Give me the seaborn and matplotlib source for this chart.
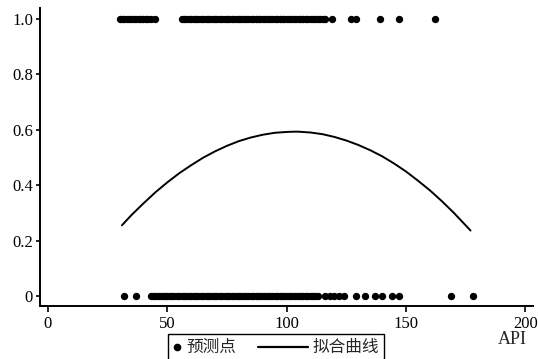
import numpy as np
import pandas as pd
import matplotlib.pyplot as plt
import seaborn as sns
from matplotlib.legend_handler import HandlerLine2D
from matplotlib.lines import Line2D

api_one = [30, 31, 32, 33, 34, 35, 36, 37, 38, 39, 40, 41, 42, 43, 45,
           56, 57, 58, 59, 60, 61, 62, 63, 64, 65, 66, 67, 68, 69, 70, 71,
           72, 73, 74, 75, 76, 77, 78, 79, 80, 81, 82, 83, 84, 85, 86, 87,
           88, 89, 90, 91, 92, 93, 94, 95, 96, 97, 98, 99, 100, 101, 102,
           103, 104, 105, 106, 107, 108, 109, 110, 111, 112, 113, 114, 115,
           116, 119, 127, 129, 139, 147, 162]
api_zero = [32, 37, 43, 44, 45, 46, 47, 48, 49, 50, 51, 52, 53, 54, 55, 56,
            57, 58, 59, 60, 61, 62, 63, 64, 65, 66, 67, 68, 69, 70, 71, 72,
            73, 74, 75, 76, 77, 78, 79, 80, 81, 82, 83, 84, 85, 86, 87, 88,
            89, 90, 91, 92, 93, 94, 95, 96, 97, 98, 99, 100, 101, 102, 103,
            104, 105, 106, 107, 108, 109, 110, 111, 112, 113, 116, 118, 120,
            122, 124, 129, 133, 137, 140, 144, 147, 169, 178]

# fitted curve
curve_x = [31, 35, 40, 45, 50, 55, 60, 65, 70, 75, 80, 85, 90, 95, 100, 103,
           105, 110, 115, 120, 125, 130, 135, 140, 145, 150, 155, 160, 165,
           170, 177]
curve_y = [0.255, 0.292, 0.334, 0.374, 0.410, 0.443, 0.472, 0.499, 0.522,
           0.542, 0.559, 0.572, 0.582, 0.589, 0.592, 0.593, 0.593, 0.590,
           0.584, 0.574, 0.561, 0.545, 0.526, 0.504, 0.478, 0.449, 0.416,
           0.381, 0.342, 0.300, 0.236]

pts = pd.DataFrame({
    'API': api_one + api_zero,
    'y': [1] * len(api_one) + [0] * len(api_zero),
})
fit = pd.DataFrame({'API': curve_x, 'p': curve_y})


# longer handle only for the fitted line entry
class LongLine(HandlerLine2D):
    def legend_artist(self, legend, orig_handle, fontsize, handlebox):
        handlebox.width = 36
        return super().legend_artist(legend, orig_handle, fontsize, handlebox)


sns.set_style('ticks')
plt.rcParams['font.family'] = ['Liberation Serif', 'Noto Sans CJK SC', 'DejaVu Sans']

fig = plt.figure(figsize=(5.38, 3.59), dpi=100)
ax = fig.add_axes([0.074, 0.148, 0.916, 0.83])

sns.scatterplot(data=pts, x='API', y='y', ax=ax, color='black', s=28,
                edgecolor='black', linewidth=0, legend=False)
sns.lineplot(data=fit, x='API', y='p', ax=ax, color='black', lw=1.4,
             legend=False)

ax.set_xlim(-3.4, 203)
ax.set_ylim(-0.036, 1.04)
ax.set_xticks([0, 50, 100, 150, 200])
ax.set_yticks([0, 0.2, 0.4, 0.6, 0.8, 1.0])
ax.set_yticklabels(['0', '0.2', '0.4', '0.6', '0.8', '1.0'])
ax.tick_params(axis='both', labelsize=12, colors='black', width=1.2, length=3,
               pad=2)
ax.tick_params(axis='x', length=4, pad=3)
sns.despine(ax=ax)
for s in ['left', 'bottom']:
    ax.spines[s].set_linewidth(1.4)
    ax.spines[s].set_color('black')
ax.set_xlabel('')
ax.set_ylabel('')
fig.text(0.953, 0.053, 'API', fontsize=13, ha='center', va='center')

dot = Line2D([], [], ls='none', marker='o', color='black', markersize=4.5)
line = Line2D([], [], color='black', lw=1.6)
leg = ax.legend([dot, line], ['预测点', '拟合曲线'], loc='center',
                bbox_to_anchor=(0.513, 0.031),
                bbox_transform=fig.transFigure, ncol=2, frameon=True,
                fancybox=False, edgecolor='black',
                handlelength=0.5, handletextpad=0.3, columnspacing=1.3,
                borderpad=0.3, borderaxespad=0,
                handler_map={line: LongLine()},
                prop={'family': ['Noto Sans CJK SC', 'DejaVu Sans'], 'size': 12})
leg.get_frame().set_linewidth(1.0)
leg.get_frame().set_alpha(1)

fig.savefig('out.png', dpi=100)
